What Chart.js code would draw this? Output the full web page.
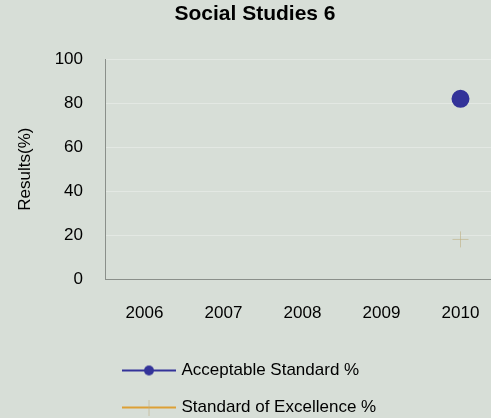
<!DOCTYPE html>
<html>
<head>
<meta charset="utf-8">
<script src="https://cdn.jsdelivr.net/npm/chart.js@4.4.1/dist/chart.umd.min.js"></script>
<style>
  html, body { margin: 0; padding: 0; background: #d7ded7; overflow: hidden; }
  #wrap { width: 491px; height: 418px; overflow: hidden; }
</style>
</head>
<body>
<div id="wrap"><canvas id="results" width="510" height="418"></canvas></div>
<script>
const years = ["2006", "2007", "2008", "2009", "2010"];
const acceptable = [null, null, null, null, 82];
const excellence = [null, null, null, null, 18];
const yTicks = [0, 20, 40, 60, 80, 100];

const font = 'Arial, "Liberation Sans", sans-serif';

// small line-with-marker swatch used by the legend
function swatch(color, marker) {
  const c = document.createElement("canvas");
  c.width = 54; c.height = 16;
  const g = c.getContext("2d");
  g.strokeStyle = color;
  g.lineWidth = 2;
  g.beginPath(); g.moveTo(0, 8); g.lineTo(54, 8); g.stroke();
  if (marker === "dot") {
    g.fillStyle = color;
    g.beginPath(); g.arc(27, 8, 5, 0, Math.PI * 2); g.fill();
  } else {
    g.strokeStyle = "rgba(190,175,130,0.6)";
    g.lineWidth = 1;
    g.beginPath(); g.moveTo(27, 0); g.lineTo(27, 16); g.stroke();
  }
  return c;
}

const ctx = document.getElementById("results").getContext("2d");
const chart = new Chart(ctx, {
  type: "line",
  data: {
    labels: years,
    datasets: [{
      label: "Acceptable Standard %",
      data: acceptable,
      borderColor: "#333399",
      backgroundColor: "#333399",
      borderWidth: 2,
      pointStyle: "circle",
      pointRadius: 8,
      pointHoverRadius: 8,
      legendSwatch: swatch("#333399", "dot")
    }, {
      label: "Standard of Excellence %",
      data: excellence,
      borderColor: "rgba(190,175,130,0.6)",
      backgroundColor: "rgba(190,175,130,0.6)",
      borderWidth: 1,
      pointStyle: "cross",
      pointRadius: 8,
      pointBorderWidth: 1,
      legendSwatch: swatch("#dda035", "cross")
    }]
  },
  options: {
    responsive: false,
    animation: false,
    layout: { padding: { left: 0, right: 0, top: 0, bottom: -8 } },
    plugins: {
      title: {
        display: true,
        text: "Social Studies 6",
        color: "#000",
        font: { family: font, size: 21, weight: "bold" },
        padding: { top: 2, bottom: 32 }
      },
      legend: {
        position: "bottom",
        align: "start",
        fullSize: false,
        labels: {
          color: "#000",
          font: { family: font, size: 17 },
          usePointStyle: true,
          pointStyleWidth: 48,
          boxWidth: 48,
          padding: 20,
          generateLabels: function (chart) {
            return chart.data.datasets.map(function (ds, i) {
              return {
                text: ds.label,
                pointStyle: ds.legendSwatch,
                fontColor: "#000",
                datasetIndex: i,
                lineWidth: 0,
                hidden: false
              };
            });
          }
        }
      },
      tooltip: { enabled: false }
    },
    scales: {
      x: {
        offset: true,
        afterFit: function (axis) { axis.height = 63; },
        grid: { display: false, drawTicks: false },
        border: { display: true, color: "#8a8f8a", width: 1 },
        ticks: { color: "#000", font: { family: font, size: 17 }, padding: 24, maxRotation: 0 }
      },
      y: {
        min: 0,
        max: 100,
        afterFit: function (axis) { axis.width = 105; },
        afterBuildTicks: function (axis) {
          axis.ticks = yTicks.map(function (v) { return { value: v }; });
        },
        grid: { color: "#e3e8e3", drawTicks: false },
        border: { display: true, color: "#8a8f8a", width: 1 },
        ticks: { color: "#000", font: { family: font, size: 17 }, padding: 22 },
        title: {
          display: true,
          text: "Results(%)",
          color: "#000",
          font: { family: font, size: 17 },
          padding: { top: 15, bottom: 0 }
        }
      }
    }
  }
});
</script>
</body>
</html>
